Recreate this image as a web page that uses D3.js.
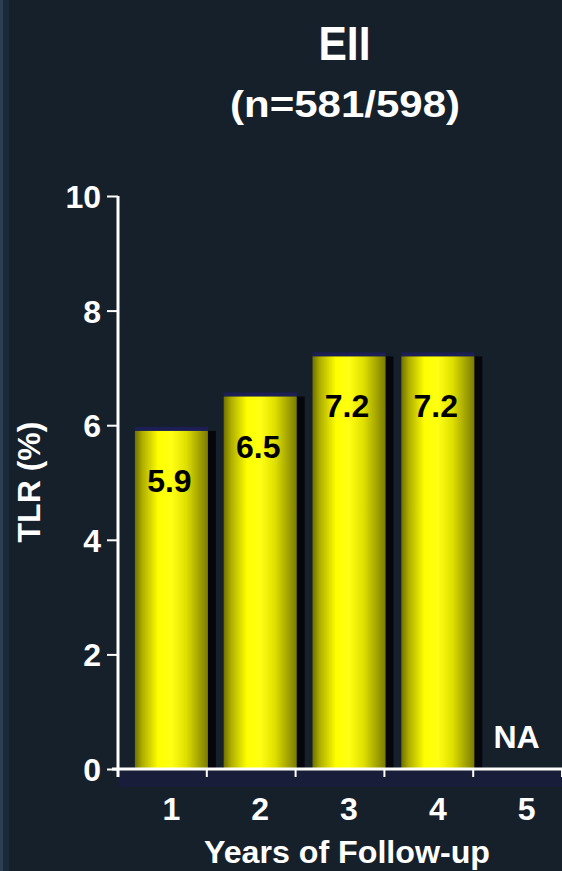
<!DOCTYPE html>
<html>
<head>
<meta charset="utf-8">
<script src="https://cdn.jsdelivr.net/npm/d3@7"></script>
<style>
  html, body { margin: 0; padding: 0; background: #16202b; }
  svg { display: block; }
  text { font-family: "Liberation Sans", Arial, sans-serif; }
</style>
</head>
<body>
<svg id="chart" width="562" height="871"></svg>
<script>
// Target lesion revascularization by year of follow-up
const years = ["1", "2", "3", "4", "5"];
const tlrValues = [5.9, 6.5, 7.2, 7.2, null]; // year 5 not available
const yTicks = [0, 2, 4, 6, 8, 10];
const titleText = "EII";
const subtitleText = "(n=581/598)";
const yTitle = "TLR (%)";
const xTitle = "Years of Follow-up";
const missingLabel = "NA";

const W = 562, H = 871;
const svg = d3.select("#chart");

// page background with a lighter strip on the left edge
svg.append("rect").attr("width", W).attr("height", H).attr("fill", "#16202b");
svg.append("rect").attr("x", 0).attr("width", 3).attr("height", H).attr("fill", "#2c3f52");
svg.append("rect").attr("x", 3).attr("width", 6).attr("height", H).attr("fill", "#1a2a3a");

const x = d3.scaleBand().domain(years).range([118, 562]).padding(0);
const y = d3.scaleLinear().domain([0, 10]).range([769, 196]);

const depth = 9;      // 3D shift of bars and labels to the right of band centers
const barW = 73;

// bar cylinder gradient
const defs = svg.append("defs");
const grad = defs.append("linearGradient").attr("id", "cyl").attr("x1", "0%").attr("x2", "100%");
[[0, "#707000"], [0.1, "#adad00"], [0.32, "#ffff00"], [0.5, "#ffff14"], [0.7, "#e0e000"], [0.88, "#a3a300"], [1, "#7c7c00"]]
  .forEach(([o, c]) => grad.append("stop").attr("offset", o).attr("stop-color", c));

// floor band below the baseline
svg.append("rect")
  .attr("x", 118).attr("y", y(0) + 2)
  .attr("width", 562 - 118).attr("height", 16)
  .attr("fill", "#181e3a");

const data = years.map((k, i) => ({ year: k, v: tlrValues[i] }));
const bars = data.filter(d => d.v != null);
const cx = d => x(d.year) + x.bandwidth() / 2 + depth;

// right-hand shadow
svg.append("g").selectAll("rect").data(bars).join("rect")
  .attr("x", d => cx(d) + barW / 2)
  .attr("y", d => y(d.v))
  .attr("width", 8)
  .attr("height", d => y(0) - y(d.v))
  .attr("fill", "#05070c");

// top cap
svg.append("g").selectAll("rect").data(bars).join("rect")
  .attr("x", d => cx(d) - barW / 2)
  .attr("y", d => y(d.v) - 4)
  .attr("width", barW)
  .attr("height", 4)
  .attr("fill", "#1c1f55");

// bars
svg.append("g").selectAll("rect").data(bars).join("rect")
  .attr("x", d => cx(d) - barW / 2)
  .attr("y", d => y(d.v))
  .attr("width", barW)
  .attr("height", d => y(0) - y(d.v))
  .attr("fill", "url(#cyl)");

// value labels inside the bars
svg.append("g").selectAll("text").data(bars).join("text")
  .attr("x", d => cx(d) - 2)
  .attr("y", d => y(d.v) + 61)
  .attr("text-anchor", "middle")
  .attr("font-size", 32).attr("font-weight", "bold")
  .attr("fill", "#000")
  .text(d => d.v.toFixed(1));

// not-available marker
data.filter(d => d.v == null).forEach(d => {
  svg.append("text")
    .attr("x", cx(d) - 10).attr("y", y(0) - 21)
    .attr("text-anchor", "middle")
    .attr("font-size", 32).attr("font-weight", "bold")
    .attr("fill", "#fff")
    .text(missingLabel);
});

// y axis
const yAxis = d3.axisLeft(y).tickValues(yTicks).tickSize(11).tickPadding(6).tickFormat(d3.format("d"));
const gy = svg.append("g").attr("transform", "translate(118,0)").call(yAxis);
gy.select(".domain").remove();
gy.selectAll("line").attr("stroke", "#fff").attr("stroke-width", 2);
gy.selectAll("text")
  .attr("fill", "#fff").attr("font-size", 32).attr("font-weight", "bold")
  .attr("font-family", "Liberation Sans, Arial, sans-serif")
  .attr("dy", "0.36em");
svg.append("line")
  .attr("x1", 118).attr("x2", 118).attr("y1", y(10)).attr("y2", y(0) + 8)
  .attr("stroke", "#fff").attr("stroke-width", 3);

// x axis: baseline, boundary ticks, year labels
svg.append("line")
  .attr("x1", 112).attr("x2", 562).attr("y1", y(0)).attr("y2", y(0))
  .attr("stroke", "#fff").attr("stroke-width", 3);
svg.append("g").selectAll("line").data(years).join("line")
  .attr("x1", d => x(d) + x.bandwidth()).attr("x2", d => x(d) + x.bandwidth())
  .attr("y1", y(0)).attr("y2", y(0) + 8)
  .attr("stroke", "#fff").attr("stroke-width", 2);
svg.append("g").selectAll("text").data(years).join("text")
  .attr("x", d => x(d) + x.bandwidth() / 2 + depth)
  .attr("y", 820)
  .attr("text-anchor", "middle")
  .attr("font-size", 32).attr("font-weight", "bold")
  .attr("fill", "#fff")
  .text(d => d);

// titles
svg.append("text")
  .attr("x", 344.5).attr("y", 60)
  .attr("text-anchor", "middle")
  .attr("font-size", 48).attr("font-weight", "bold")
  .attr("textLength", 52).attr("lengthAdjust", "spacingAndGlyphs")
  .attr("fill", "#fff")
  .text(titleText);
svg.append("text")
  .attr("x", 345).attr("y", 117)
  .attr("text-anchor", "middle")
  .attr("font-size", 37).attr("font-weight", "bold")
  .attr("textLength", 230).attr("lengthAdjust", "spacingAndGlyphs")
  .attr("fill", "#fff")
  .text(subtitleText);

svg.append("text")
  .attr("transform", "translate(40,482) rotate(-90)")
  .attr("text-anchor", "middle")
  .attr("font-size", 32).attr("font-weight", "bold")
  .attr("fill", "#fff")
  .text(yTitle);

svg.append("text")
  .attr("x", 347).attr("y", 863)
  .attr("text-anchor", "middle")
  .attr("font-size", 32).attr("font-weight", "bold")
  .attr("textLength", 286).attr("lengthAdjust", "spacingAndGlyphs")
  .attr("fill", "#fff")
  .text(xTitle);
</script>
</body>
</html>
